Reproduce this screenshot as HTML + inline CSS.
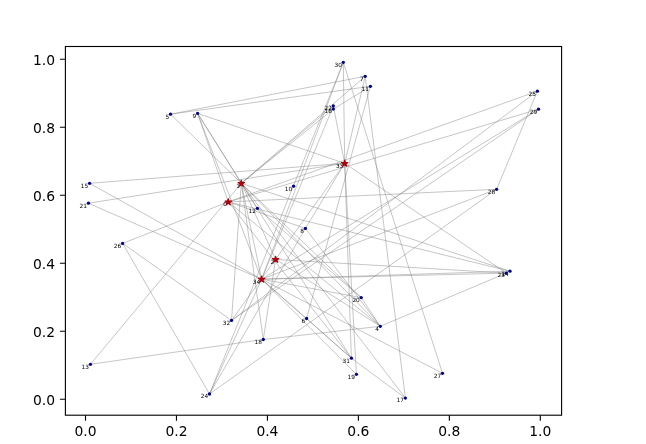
<!DOCTYPE html>
<html><head><meta charset="utf-8"><title>plot</title><style>
html,body{margin:0;padding:0;background:#fff;width:646px;height:444px;overflow:hidden}
</style></head><body>
<svg width="646" height="444" viewBox="0 0 646 444" style="display:block">
<rect width="646" height="444" fill="#fff"/>
<g clip-path="url(#cp)" stroke="#808080" stroke-opacity="0.6" stroke-width="0.75" fill="none">
<line x1="170.5" y1="114.2" x2="365.2" y2="76.3"/>
<line x1="170.5" y1="114.2" x2="370.4" y2="86.3"/>
<line x1="170.5" y1="114.2" x2="241.3" y2="183.3"/>
<line x1="197.6" y1="113.4" x2="344.7" y2="163.3"/>
<line x1="197.6" y1="113.4" x2="241.3" y2="183.3"/>
<line x1="197.6" y1="113.4" x2="228.3" y2="201.9"/>
<line x1="197.6" y1="113.4" x2="261.6" y2="279.2"/>
<line x1="90.4" y1="364.3" x2="241.3" y2="183.3"/>
<line x1="90.4" y1="364.3" x2="263.3" y2="339.5"/>
<line x1="89.6" y1="183.3" x2="344.7" y2="163.3"/>
<line x1="89.6" y1="183.3" x2="261.6" y2="279.2"/>
<line x1="88.4" y1="203.2" x2="344.7" y2="163.3"/>
<line x1="88.4" y1="203.2" x2="261.6" y2="279.2"/>
<line x1="122.6" y1="243.4" x2="228.3" y2="201.9"/>
<line x1="122.6" y1="243.4" x2="231.5" y2="320.4"/>
<line x1="122.6" y1="243.4" x2="209.5" y2="394"/>
<line x1="231.5" y1="320.4" x2="241.3" y2="183.3"/>
<line x1="231.5" y1="320.4" x2="344.7" y2="163.3"/>
<line x1="231.5" y1="320.4" x2="538.5" y2="109.2"/>
<line x1="231.5" y1="320.4" x2="537.4" y2="91.2"/>
<line x1="209.5" y1="394" x2="343.3" y2="62.3"/>
<line x1="209.5" y1="394" x2="261.6" y2="279.2"/>
<line x1="209.5" y1="394" x2="305.4" y2="228.4"/>
<line x1="209.5" y1="394" x2="496.6" y2="189.3"/>
<line x1="496.6" y1="189.3" x2="537.4" y2="91.2"/>
<line x1="496.6" y1="189.3" x2="228.3" y2="201.9"/>
<line x1="496.6" y1="189.3" x2="261.6" y2="279.2"/>
<line x1="442.5" y1="373.3" x2="261.6" y2="279.2"/>
<line x1="442.5" y1="373.3" x2="343.3" y2="62.3"/>
<line x1="405.4" y1="398.1" x2="365.2" y2="76.3"/>
<line x1="405.4" y1="398.1" x2="351.4" y2="358.2"/>
<line x1="263.3" y1="339.5" x2="241.3" y2="183.3"/>
<line x1="263.3" y1="339.5" x2="275.6" y2="259.4"/>
<line x1="263.3" y1="339.5" x2="380.3" y2="326.3"/>
<line x1="305.4" y1="228.4" x2="344.7" y2="163.3"/>
<line x1="305.4" y1="228.4" x2="380.3" y2="326.3"/>
<line x1="343.3" y1="62.3" x2="344.7" y2="163.3"/>
<line x1="343.3" y1="62.3" x2="261.6" y2="279.2"/>
<line x1="365.2" y1="76.3" x2="344.7" y2="163.3"/>
<line x1="365.2" y1="76.3" x2="241.3" y2="183.3"/>
<line x1="370.4" y1="86.3" x2="306.6" y2="318.5"/>
<line x1="370.4" y1="86.3" x2="333.3" y2="109.1"/>
<line x1="333.3" y1="109.1" x2="241.3" y2="183.3"/>
<line x1="333.3" y1="106" x2="241.3" y2="183.3"/>
<line x1="537.4" y1="91.2" x2="228.3" y2="201.9"/>
<line x1="538.5" y1="109.2" x2="228.3" y2="201.9"/>
<line x1="538.5" y1="109.2" x2="261.6" y2="279.2"/>
<line x1="344.7" y1="163.3" x2="506.3" y2="273.1"/>
<line x1="241.3" y1="183.3" x2="510" y2="271.2"/>
<line x1="228.3" y1="201.9" x2="510" y2="271.2"/>
<line x1="275.6" y1="259.4" x2="506.3" y2="273.1"/>
<line x1="261.6" y1="279.2" x2="506.3" y2="273.1"/>
<line x1="261.6" y1="279.2" x2="361.2" y2="297.6"/>
<line x1="261.6" y1="279.2" x2="510" y2="271.2"/>
<line x1="380.3" y1="326.3" x2="506.3" y2="273.1"/>
<line x1="344.7" y1="163.3" x2="351.4" y2="358.2"/>
<line x1="344.7" y1="163.3" x2="356.4" y2="374.3"/>
<line x1="261.6" y1="279.2" x2="306.6" y2="318.5"/>
<line x1="241.3" y1="183.3" x2="380.3" y2="326.3"/>
<line x1="241.3" y1="183.3" x2="275.6" y2="259.4"/>
<line x1="241.3" y1="183.3" x2="261.6" y2="279.2"/>
<line x1="241.3" y1="183.3" x2="405.4" y2="398.1"/>
<line x1="228.3" y1="201.9" x2="305.4" y2="228.4"/>
<line x1="257.4" y1="208.3" x2="361.2" y2="297.6"/>
<line x1="306.6" y1="318.5" x2="351.4" y2="358.2"/>
<line x1="261.6" y1="279.2" x2="351.4" y2="358.2"/>
<line x1="261.6" y1="279.2" x2="356.4" y2="374.3"/>
<line x1="228.3" y1="201.9" x2="351.4" y2="358.2"/>
<line x1="241.3" y1="183.3" x2="351.4" y2="358.2"/>
<line x1="197.6" y1="113.4" x2="257.4" y2="208.3"/>
<line x1="241.3" y1="183.3" x2="361.2" y2="297.6"/>
<line x1="380.3" y1="326.3" x2="361.2" y2="297.6"/>
<line x1="380.3" y1="326.3" x2="228.3" y2="201.9"/>
<line x1="380.3" y1="326.3" x2="275.6" y2="259.4"/>
<line x1="333.3" y1="106" x2="261.6" y2="279.2"/>
<line x1="333.3" y1="106" x2="344.7" y2="163.3"/>
</g>
<g font-family="DejaVu Sans, sans-serif" font-size="5.8" text-anchor="end" fill="#000">
<text x="305.2" y="322.8">6</text>
<text x="378.9" y="330.6">4</text>
<text x="169.1" y="118.5">5</text>
<text x="363.8" y="80.6">7</text>
<text x="304" y="232.7">8</text>
<text x="196.2" y="117.7">9</text>
<text x="292.2" y="190.5">10</text>
<text x="369" y="90.6">11</text>
<text x="256" y="212.6">12</text>
<text x="89" y="368.6">13</text>
<text x="88.2" y="187.6">15</text>
<text x="331.9" y="113.4">16</text>
<text x="404" y="402.4">17</text>
<text x="261.9" y="343.8">18</text>
<text x="355" y="378.6">19</text>
<text x="359.8" y="301.9">20</text>
<text x="87" y="207.5">21</text>
<text x="331.9" y="110.3">22</text>
<text x="208.1" y="398.3">24</text>
<text x="536" y="95.5">25</text>
<text x="121.2" y="247.7">26</text>
<text x="441.1" y="377.6">27</text>
<text x="495.2" y="193.6">28</text>
<text x="537.1" y="113.5">29</text>
<text x="341.9" y="66.6">30</text>
<text x="350" y="362.5">31</text>
<text x="230.1" y="324.7">32</text>
<text x="239.9" y="187.6">1</text>
<text x="226.9" y="206.2">0</text>
<text x="343.3" y="167.6">33</text>
<text x="274.2" y="263.7">2</text>
<text x="260.2" y="283.5">34</text>
<text x="504.9" y="277.4">23</text>
<text x="508.6" y="275.5">14</text>
</g>
<g fill="#00008b">
<circle cx="306.6" cy="318.5" r="1.65"/>
<circle cx="380.3" cy="326.3" r="1.65"/>
<circle cx="170.5" cy="114.2" r="1.65"/>
<circle cx="365.2" cy="76.3" r="1.65"/>
<circle cx="305.4" cy="228.4" r="1.65"/>
<circle cx="197.6" cy="113.4" r="1.65"/>
<circle cx="293.6" cy="186.2" r="1.65"/>
<circle cx="370.4" cy="86.3" r="1.65"/>
<circle cx="257.4" cy="208.3" r="1.65"/>
<circle cx="90.4" cy="364.3" r="1.65"/>
<circle cx="89.6" cy="183.3" r="1.65"/>
<circle cx="333.3" cy="109.1" r="1.65"/>
<circle cx="405.4" cy="398.1" r="1.65"/>
<circle cx="263.3" cy="339.5" r="1.65"/>
<circle cx="356.4" cy="374.3" r="1.65"/>
<circle cx="361.2" cy="297.6" r="1.65"/>
<circle cx="88.4" cy="203.2" r="1.65"/>
<circle cx="333.3" cy="106" r="1.65"/>
<circle cx="209.5" cy="394" r="1.65"/>
<circle cx="537.4" cy="91.2" r="1.65"/>
<circle cx="122.6" cy="243.4" r="1.65"/>
<circle cx="442.5" cy="373.3" r="1.65"/>
<circle cx="496.6" cy="189.3" r="1.65"/>
<circle cx="538.5" cy="109.2" r="1.65"/>
<circle cx="343.3" cy="62.3" r="1.65"/>
<circle cx="351.4" cy="358.2" r="1.65"/>
<circle cx="231.5" cy="320.4" r="1.65"/>
<circle cx="506.3" cy="273.1" r="1.65"/>
<circle cx="510" cy="271.2" r="1.65"/>
</g>
<g fill="#ac000c" stroke="#ac000c" stroke-width="1.1" stroke-linejoin="round">
<polygon points="241.3,180.1 242.06,182.45 244.53,182.45 242.54,183.9 243.3,186.25 241.3,184.8 239.3,186.25 240.06,183.9 238.07,182.45 240.54,182.45"/>
<polygon points="228.3,198.7 229.06,201.05 231.53,201.05 229.54,202.5 230.3,204.85 228.3,203.4 226.3,204.85 227.06,202.5 225.07,201.05 227.54,201.05"/>
<polygon points="344.7,160.1 345.46,162.45 347.93,162.45 345.94,163.9 346.7,166.25 344.7,164.8 342.7,166.25 343.46,163.9 341.47,162.45 343.94,162.45"/>
<polygon points="275.6,256.2 276.36,258.55 278.83,258.55 276.84,260 277.6,262.35 275.6,260.9 273.6,262.35 274.36,260 272.37,258.55 274.84,258.55"/>
<polygon points="261.6,276 262.36,278.35 264.83,278.35 262.84,279.8 263.6,282.15 261.6,280.7 259.6,282.15 260.36,279.8 258.37,278.35 260.84,278.35"/>
</g>
<rect x="65.4" y="46.5" width="496.2" height="368.7" fill="none" stroke="#000" stroke-width="1.11"/>
<path d="M85.5 415.2v5.5 M65.4 399.3h-5.5 M176.46 415.2v5.5 M65.4 331.3h-5.5 M267.42 415.2v5.5 M65.4 263.3h-5.5 M358.38 415.2v5.5 M65.4 195.3h-5.5 M449.34 415.2v5.5 M65.4 127.3h-5.5 M540.3 415.2v5.5 M65.4 59.3h-5.5" stroke="#000" stroke-width="1.11"/>
<g font-family="DejaVu Sans, sans-serif" font-size="13.89" fill="#000">
<text x="85.5" y="435.9" text-anchor="middle">0.0</text>
<text x="55" y="404.9" text-anchor="end">0.0</text>
<text x="176.46" y="435.9" text-anchor="middle">0.2</text>
<text x="55" y="336.9" text-anchor="end">0.2</text>
<text x="267.42" y="435.9" text-anchor="middle">0.4</text>
<text x="55" y="268.9" text-anchor="end">0.4</text>
<text x="358.38" y="435.9" text-anchor="middle">0.6</text>
<text x="55" y="200.9" text-anchor="end">0.6</text>
<text x="449.34" y="435.9" text-anchor="middle">0.8</text>
<text x="55" y="132.9" text-anchor="end">0.8</text>
<text x="540.3" y="435.9" text-anchor="middle">1.0</text>
<text x="55" y="64.9" text-anchor="end">1.0</text>
</g>
<defs><clipPath id="cp"><rect x="65.4" y="46.5" width="496.2" height="368.7"/></clipPath></defs>
</svg>
</body></html>
